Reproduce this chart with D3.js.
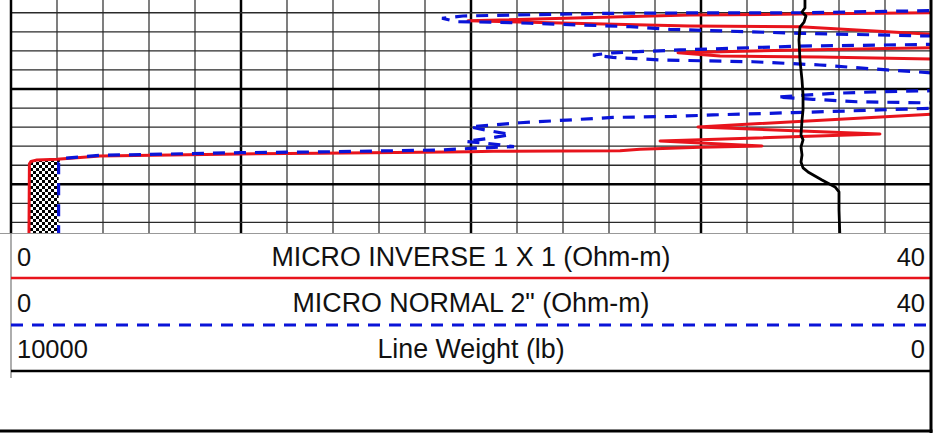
<!DOCTYPE html>
<html>
<head>
<meta charset="utf-8">
<script src="https://cdn.jsdelivr.net/npm/d3@7"></script>
<style>
  body { margin: 0; background: #fff; }
  text { font-family: "Liberation Sans", Arial, sans-serif; fill: #111; }
</style>
</head>
<body>
<script>
// depth in ft, resistivity in Ohm-m (60 = off scale to the right)
var redDepth = [1095.33, 1096.00, 1096.07, 1096.12, 1096.42, 1096.70, 1096.73, 1097.13, 1097.48,
  1097.83, 1097.95, 1098.10, 1098.27, 1098.32, 1098.43, 1099.84, 1101.33, 1101.99, 1102.36,
  1102.73, 1102.99, 1103.06, 1103.16, 1103.24, 1103.25, 1103.27, 1103.29, 1103.37, 1103.41,
  1103.51, 1103.69, 1103.72, 1103.80, 1103.93, 1107.92];
var microInverse = [60, 40, 34.3, 29.5, 19.87, 29.5, 34.3, 40, 60,
  40, 34.3, 29.0, 30.83, 35.17, 40, 60, 40, 29.87, 37.78,
  28.22, 32.65, 29.96, 27.35, 26.48, 23.87, 20.96, 19.96, 13.43, 9.96,
  3.87, 2.0, 1.13, 0.87, 0.80, 0.78];

var blueDepth = [1095.33, 1095.89, 1096.00, 1096.01, 1096.03, 1096.12, 1096.17, 1096.29, 1096.47,
  1096.49, 1096.55, 1096.64, 1096.73, 1096.87, 1097.08, 1097.22, 1097.43, 1097.66, 1097.75,
  1097.95, 1098.10, 1098.22, 1098.34, 1098.48, 1098.57, 1098.74, 1099.00, 1099.15, 1099.63,
  1100.09, 1100.14, 1100.23, 1100.42, 1100.54, 1100.67, 1100.73, 1100.87, 1101.01, 1101.10,
  1101.24, 1101.36, 1101.44, 1101.49, 1101.63, 1101.77, 1101.89, 1101.99, 1102.15, 1102.39,
  1102.60, 1102.75, 1102.86, 1103.02, 1103.12, 1103.20, 1103.30, 1103.34, 1103.48, 1103.64,
  1103.88, 1107.92];
var microNormal = [60, 40, 34.3, 29.22, 26.04, 21.83, 19.65, 18.74, 19.39,
  20.83, 22.57, 24.74, 26.91, 28.65, 34.3, 40, 60, 40, 34.3,
  29.09, 26.17, 25.3, 26.17, 28.35, 32.26, 35.17, 38.09, 40, 60,
  40, 37.78, 35.74, 33.3, 34.87, 36.78, 40, 60, 40, 37.78,
  34.0, 30.52, 28.78, 26.17, 24.17, 22.13, 20.96, 19.96, 20.61, 21.7,
  20.74, 19.78, 20.74, 21.87, 19.96, 18.65, 13.43, 9.96, 3.87, 2.22,
  2.07, 2.07];

var weightDepth = [1095.33, 1095.75, 1095.96, 1096.17, 1096.49, 1096.75, 1097.43, 1098.48, 1099.53,
  1100.31, 1101.10, 1101.63, 1102.41, 1102.67, 1103.04, 1103.46, 1103.83, 1104.14, 1104.35,
  1104.77, 1105.14, 1105.40, 1106.35, 1107.92];
var lineWeight = [1370, 1370, 1402, 1359, 1380, 1424, 1435, 1424, 1402,
  1391, 1391, 1402, 1413, 1391, 1413, 1402, 1413, 1391, 1337,
  1185, 1043, 1000, 1000, 989];

// checkered fill between the two micro curves starts here
var fillTopDepth = 1103.72;

var legendTitles = ["MICRO INVERSE 1 X 1 (Ohm-m)", "MICRO NORMAL 2\" (Ohm-m)", "Line Weight (lb)"];
var legendLeft = ["0", "0", "10000"];
var legendRight = ["40", "40", "0"];

var width = 939, height = 433;
var left = 11, right = 931, trackBottom = 233;

var svg = d3.select("body").append("svg")
  .attr("width", width)
  .attr("height", height);

svg.append("rect").attr("width", width).attr("height", height).attr("fill", "#fff");

var xScale = d3.scaleLinear().domain([0, 40]).range([left, right]);
var wScale = d3.scaleLinear().domain([10000, 0]).range([left, right]);
var yScale = d3.scaleLinear().domain([1100, 1105]).range([89, 184.3]);

var defs = svg.append("defs");
defs.append("clipPath").attr("id", "track")
  .append("rect").attr("x", left).attr("y", 0)
  .attr("width", right - left).attr("height", trackBottom);

var pat = defs.append("pattern").attr("id", "checker")
  .attr("width", 6).attr("height", 6)
  .attr("patternUnits", "userSpaceOnUse");
pat.append("rect").attr("width", 6).attr("height", 6).attr("fill", "#fff");
pat.append("rect").attr("width", 3).attr("height", 3).attr("fill", "#000");
pat.append("rect").attr("x", 3).attr("y", 3).attr("width", 3).attr("height", 3).attr("fill", "#000");

// grid
var grid = svg.append("g");
var vTicks = d3.range(2, 40, 2);
grid.selectAll("line.v").data(vTicks).enter().append("line")
  .attr("x1", function(d){ return xScale(d); })
  .attr("x2", function(d){ return xScale(d); })
  .attr("y1", 0).attr("y2", trackBottom)
  .attr("stroke", function(d){ return d % 10 == 0 ? "#000" : "#3a3a3a"; })
  .attr("stroke-width", function(d){ return d % 10 == 0 ? 2.5 : 1.3; });

var hTicks = d3.range(1095, 1108, 1);
grid.selectAll("line.h").data(hTicks).enter().append("line")
  .attr("x1", left).attr("x2", right)
  .attr("y1", function(d){ return yScale(d); })
  .attr("y2", function(d){ return yScale(d); })
  .attr("stroke", function(d){ return d % 5 == 0 ? "#000" : "#2a2a2a"; })
  .attr("stroke-width", function(d){ return d % 5 == 0 ? 2.5 : 1.3; });

var plot = svg.append("g").attr("clip-path", "url(#track)");

function valueAt(depths, values, d) {
  var i = d3.bisectLeft(depths, d);
  if (i <= 0) return values[0];
  if (i >= depths.length) return values[values.length - 1];
  var t = (d - depths[i - 1]) / (depths[i] - depths[i - 1]);
  return values[i - 1] + t * (values[i] - values[i - 1]);
}

var fillRows = redDepth.map(function(d, i){ return {d: d, r: microInverse[i]}; })
  .filter(function(p){ return p.d >= fillTopDepth; });

plot.append("path")
  .datum(fillRows)
  .attr("fill", "url(#checker)")
  .attr("d", d3.area()
    .y(function(p){ return yScale(p.d); })
    .x0(function(p){ return xScale(p.r); })
    .x1(function(p){ return xScale(valueAt(blueDepth, microNormal, p.d)); }));

function curve(depths, values, scale) {
  return d3.line()
    .x(function(v){ return scale(v); })
    .y(function(v, i){ return yScale(depths[i]); })(values);
}

plot.append("path")
  .attr("d", curve(redDepth, microInverse, xScale))
  .attr("fill", "none").attr("stroke", "#e8141c").attr("stroke-width", 3)
  .attr("stroke-linejoin", "round");

plot.append("path")
  .attr("d", curve(blueDepth, microNormal, xScale))
  .attr("fill", "none").attr("stroke", "#0a14d8").attr("stroke-width", 3.2)
  .attr("stroke-dasharray", "12,9");

plot.append("path")
  .attr("d", curve(weightDepth, lineWeight, wScale))
  .attr("fill", "none").attr("stroke", "#000").attr("stroke-width", 2.8)
  .attr("stroke-linejoin", "round");

// track borders
svg.append("line").attr("x1", left).attr("x2", left).attr("y1", 0).attr("y2", trackBottom)
  .attr("stroke", "#000").attr("stroke-width", 2.5);

// legend
svg.append("line").attr("x1", 0).attr("x2", right).attr("y1", trackBottom + 0.5).attr("y2", trackBottom + 0.5)
  .attr("stroke", "#999").attr("stroke-width", 1);
svg.append("line").attr("x1", left).attr("x2", left).attr("y1", trackBottom).attr("y2", 378)
  .attr("stroke", "#777").attr("stroke-width", 1.2);

var rowBase = [266, 312, 358];
var rowLine = [278, 325, 371];

svg.selectAll("text.left").data(legendLeft).enter().append("text")
  .attr("x", 17).attr("y", function(d, i){ return rowBase[i]; })
  .attr("font-size", 25.5).text(function(d){ return d; });
svg.selectAll("text.mid").data(legendTitles).enter().append("text")
  .attr("x", (left + right) / 2).attr("y", function(d, i){ return rowBase[i]; })
  .attr("text-anchor", "middle")
  .attr("font-size", 26.8).text(function(d){ return d; });
svg.selectAll("text.right").data(legendRight).enter().append("text")
  .attr("x", 925).attr("y", function(d, i){ return rowBase[i]; })
  .attr("text-anchor", "end")
  .attr("font-size", 25.5).text(function(d){ return d; });

svg.append("line").attr("x1", left).attr("x2", right).attr("y1", rowLine[0]).attr("y2", rowLine[0])
  .attr("stroke", "#e8141c").attr("stroke-width", 2.5);
svg.append("line").attr("x1", left).attr("x2", right).attr("y1", rowLine[1]).attr("y2", rowLine[1])
  .attr("stroke", "#0a14d8").attr("stroke-width", 3).attr("stroke-dasharray", "12,9");
svg.append("line").attr("x1", left).attr("x2", right).attr("y1", rowLine[2]).attr("y2", rowLine[2])
  .attr("stroke", "#000").attr("stroke-width", 2.5);

svg.append("line").attr("x1", right).attr("x2", right).attr("y1", 0).attr("y2", height)
  .attr("stroke", "#000").attr("stroke-width", 3);
svg.append("line").attr("x1", 0).attr("x2", right + 1.5).attr("y1", 431).attr("y2", 431)
  .attr("stroke", "#000").attr("stroke-width", 3);
</script>
</body>
</html>
